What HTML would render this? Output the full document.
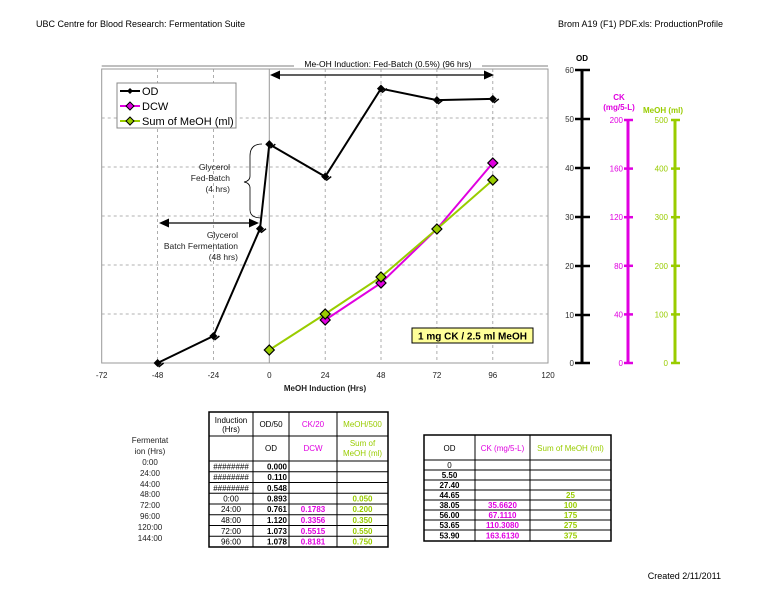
<!DOCTYPE html>
<html><head><meta charset="utf-8"><style>
body{margin:0;background:#fff;}
svg{display:block;font-family:"Liberation Sans",sans-serif;}
</style></head><body>
<svg width="776" height="600" viewBox="0 0 776 600" xmlns="http://www.w3.org/2000/svg">
<text x="36" y="27" font-size="9">UBC Centre for Blood Research: Fermentation Suite</text>
<text x="723" y="27" font-size="9" text-anchor="end">Brom A19 (F1) PDF.xls: ProductionProfile</text>
<text x="721" y="579" font-size="9" text-anchor="end">Created 2/11/2011</text>

<rect x="101.7" y="69" width="446.3" height="294" fill="none" stroke="#999" stroke-width="1"/>
<g stroke="#999" stroke-dasharray="3,3" stroke-width="0.8">
<line x1="157.6" y1="69" x2="157.6" y2="363"/><line x1="213.4" y1="69" x2="213.4" y2="363"/>
<line x1="325.2" y1="69" x2="325.2" y2="363"/><line x1="381" y1="69" x2="381" y2="363"/>
<line x1="436.9" y1="69" x2="436.9" y2="363"/><line x1="492.8" y1="69" x2="492.8" y2="363"/>
<line x1="101.7" y1="314" x2="548" y2="314"/><line x1="101.7" y1="265" x2="548" y2="265"/>
<line x1="101.7" y1="216" x2="548" y2="216"/><line x1="101.7" y1="167" x2="548" y2="167"/>
<line x1="101.7" y1="118" x2="548" y2="118"/>
</g>
<line x1="269.3" y1="69" x2="269.3" y2="363" stroke="#999"/>
<g font-size="8" text-anchor="middle" fill="#222">
<text x="101.7" y="378">-72</text><text x="157.6" y="378">-48</text><text x="213.4" y="378">-24</text>
<text x="269.3" y="378">0</text><text x="325.2" y="378">24</text><text x="381" y="378">48</text>
<text x="436.9" y="378">72</text><text x="492.8" y="378">96</text><text x="548" y="378">120</text>
<text x="325" y="391" font-weight="bold">MeOH Induction (Hrs)</text>
</g>

<line x1="101.7" y1="66" x2="294" y2="66" stroke="#000" stroke-width="0.6"/>
<line x1="482" y1="66" x2="548" y2="66" stroke="#000" stroke-width="0.6"/>
<text x="388" y="67" font-size="8.5" text-anchor="middle">Me-OH Induction: Fed-Batch (0.5%) (96 hrs)</text>
<line x1="278" y1="75" x2="485" y2="75" stroke="#000" stroke-width="1.3"/>
<polygon points="270,75 280,70.5 280,79.5" fill="#000"/>
<polygon points="494,75 484,70.5 484,79.5" fill="#000"/>
<line x1="168" y1="223" x2="250" y2="223" stroke="#000" stroke-width="1.3"/>
<polygon points="159,223 169,218.5 169,227.5" fill="#000"/>
<polygon points="259,223 249,218.5 249,227.5" fill="#000"/>
<g font-size="8.5" text-anchor="end" fill="#222">
<text x="230" y="170">Glycerol</text><text x="230" y="181">Fed-Batch</text><text x="230" y="192">(4 hrs)</text>
<text x="238" y="238">Glycerol</text><text x="238" y="249">Batch Fermentation</text><text x="238" y="260">(48 hrs)</text>
</g>
<path d="M262,144 Q250,144 250,156 L250,176 Q250,181 244,182 Q250,183 250,188 L250,210 Q250,218 262,218" fill="none" stroke="#000" stroke-width="0.8"/>

<polyline points="157.6,363 213.4,336 260,228.7 269.3,144.2 325.2,176.6 381,88.6 436.9,100.1 492.8,98.9" fill="none" stroke="#000" stroke-width="2"/>
<g fill="#000" stroke="#000" stroke-width="1.5">
<g transform="translate(157.6,363)"><polygon points="0,-3 3,0 0,3 -3,0"/><line x1="1" y1="4" x2="6" y2="0"/></g>
<g transform="translate(213.4,336)"><polygon points="0,-3 3,0 0,3 -3,0"/><line x1="1" y1="4" x2="6" y2="0"/></g>
<g transform="translate(260,228.7)"><polygon points="0,-3 3,0 0,3 -3,0"/><line x1="1" y1="4" x2="6" y2="0"/></g>
<g transform="translate(269.3,144.2)"><polygon points="0,-3 3,0 0,3 -3,0"/><line x1="1" y1="4" x2="6" y2="0"/></g>
<g transform="translate(325.2,176.6)"><polygon points="0,-3 3,0 0,3 -3,0"/><line x1="1" y1="4" x2="6" y2="0"/></g>
<g transform="translate(381,88.6)"><polygon points="0,-3 3,0 0,3 -3,0"/><line x1="1" y1="4" x2="6" y2="0"/></g>
<g transform="translate(436.9,100.1)"><polygon points="0,-3 3,0 0,3 -3,0"/><line x1="1" y1="4" x2="6" y2="0"/></g>
<g transform="translate(492.8,98.9)"><polygon points="0,-3 3,0 0,3 -3,0"/><line x1="1" y1="4" x2="6" y2="0"/></g>
</g>

<polyline points="325.2,320 381,283 436.9,229 492.8,163" fill="none" stroke="#e000e0" stroke-width="2"/>
<polyline points="269.3,350 325.2,314 381,277 436.9,229 492.8,180" fill="none" stroke="#99cc00" stroke-width="2"/>
<g stroke="#000" stroke-width="1.2">
<g fill="#e000e0">
<polygon points="325.2,315 330.2,320 325.2,325 320.2,320"/><polygon points="381,278 386,283 381,288 376,283"/>
<polygon points="492.8,158 497.8,163 492.8,168 487.8,163"/>
</g>
<g fill="#99cc00">
<polygon points="269.3,345 274.3,350 269.3,355 264.3,350"/><polygon points="325.2,309 330.2,314 325.2,319 320.2,314"/>
<polygon points="381,272 386,277 381,282 376,277"/><polygon points="436.9,224 441.9,229 436.9,234 431.9,229"/>
<polygon points="492.8,175 497.8,180 492.8,185 487.8,180"/>
</g>
</g>

<rect x="117" y="83" width="119" height="45" fill="#fff" stroke="#888"/>
<line x1="120" y1="91" x2="140" y2="91" stroke="#000" stroke-width="2"/><polygon points="130,88 133,91 130,94 127,91"/>
<line x1="120" y1="106" x2="140" y2="106" stroke="#e000e0" stroke-width="2"/><polygon points="130,102 134,106 130,110 126,106" fill="#e000e0" stroke="#000"/>
<line x1="120" y1="121" x2="140" y2="121" stroke="#99cc00" stroke-width="2"/><polygon points="130,117 134,121 130,125 126,121" fill="#99cc00" stroke="#000"/>
<g font-size="11"><text x="142" y="95">OD</text><text x="142" y="110">DCW</text><text x="142" y="125">Sum of MeOH (ml)</text></g>

<rect x="412" y="328" width="121" height="15" fill="#ffff99" stroke="#000"/>
<text x="472.5" y="339.5" font-size="10" font-weight="bold" text-anchor="middle">1 mg CK / 2.5 ml MeOH</text>

<text x="582" y="61" font-size="8" font-weight="bold" text-anchor="middle">OD</text>
<line x1="582" y1="70" x2="582" y2="363" stroke="#000" stroke-width="3"/>
<g stroke="#000" stroke-width="2.5">
<line x1="575" y1="70" x2="590" y2="70"/><line x1="575" y1="119" x2="590" y2="119"/><line x1="575" y1="168" x2="590" y2="168"/>
<line x1="575" y1="217" x2="590" y2="217"/><line x1="575" y1="266" x2="590" y2="266"/><line x1="575" y1="315" x2="590" y2="315"/><line x1="575" y1="363" x2="590" y2="363"/>
</g>
<g font-size="8" text-anchor="end" fill="#333">
<text x="574" y="73">60</text><text x="574" y="122">50</text><text x="574" y="171">40</text><text x="574" y="220">30</text>
<text x="574" y="269">20</text><text x="574" y="318">10</text><text x="574" y="366">0</text>
</g>
<g fill="#e000e0" font-size="8" font-weight="bold" text-anchor="middle"><text x="619" y="100">CK</text><text x="619" y="110">(mg/5-L)</text></g>
<line x1="628" y1="120" x2="628" y2="363" stroke="#e000e0" stroke-width="3"/>
<g stroke="#e000e0" stroke-width="2.5">
<line x1="624" y1="120" x2="633" y2="120"/><line x1="624" y1="168.6" x2="633" y2="168.6"/><line x1="624" y1="217.2" x2="633" y2="217.2"/>
<line x1="624" y1="265.8" x2="633" y2="265.8"/><line x1="624" y1="314.4" x2="633" y2="314.4"/><line x1="624" y1="363" x2="633" y2="363"/>
</g>
<g font-size="8" text-anchor="end" fill="#e000e0">
<text x="623" y="123">200</text><text x="623" y="171.6">160</text><text x="623" y="220.2">120</text>
<text x="623" y="268.8">80</text><text x="623" y="317.4">40</text><text x="623" y="366">0</text>
</g>
<text x="663" y="113" font-size="8" font-weight="bold" fill="#99cc00" text-anchor="middle">MeOH (ml)</text>
<line x1="675" y1="120" x2="675" y2="363" stroke="#99cc00" stroke-width="3"/>
<g stroke="#99cc00" stroke-width="2.5">
<line x1="671" y1="120" x2="680" y2="120"/><line x1="671" y1="168.6" x2="680" y2="168.6"/><line x1="671" y1="217.2" x2="680" y2="217.2"/>
<line x1="671" y1="265.8" x2="680" y2="265.8"/><line x1="671" y1="314.4" x2="680" y2="314.4"/><line x1="671" y1="363" x2="680" y2="363"/>
</g>
<g font-size="8" text-anchor="end" fill="#99cc00">
<text x="668" y="123">500</text><text x="668" y="171.6">400</text><text x="668" y="220.2">300</text>
<text x="668" y="268.8">200</text><text x="668" y="317.4">100</text><text x="668" y="366">0</text>
</g>

<g font-size="8" text-anchor="middle" fill="#222">
<text x="150" y="443">Fermentat</text><text x="150" y="454">ion (Hrs)</text>
<text x="150" y="465">0:00</text><text x="150" y="476">24:00</text><text x="150" y="487">44:00</text><text x="150" y="497">48:00</text>
<text x="150" y="508">72:00</text><text x="150" y="519">96:00</text><text x="150" y="530">120:00</text><text x="150" y="541">144:00</text>
</g>
<g stroke="#000" fill="none">
<rect x="209" y="412" width="179" height="135" stroke-width="1.5"/>
<line x1="209" y1="436" x2="388" y2="436"/><line x1="209" y1="461" x2="388" y2="461"/>
<line x1="253" y1="412" x2="253" y2="547"/><line x1="289" y1="412" x2="289" y2="547"/><line x1="337" y1="412" x2="337" y2="547"/>
<line x1="209" y1="471.7" x2="388" y2="471.7"/><line x1="209" y1="482.5" x2="388" y2="482.5"/><line x1="209" y1="493.2" x2="388" y2="493.2"/>
<line x1="209" y1="504" x2="388" y2="504"/><line x1="209" y1="514.7" x2="388" y2="514.7"/><line x1="209" y1="525.5" x2="388" y2="525.5"/><line x1="209" y1="536.2" x2="388" y2="536.2"/>
</g>
<g font-size="8" text-anchor="middle">
<text x="231" y="423">Induction</text><text x="231" y="432">(Hrs)</text><text x="271" y="427">OD/50</text>
<text x="313" y="427" fill="#e000e0">CK/20</text><text x="362.5" y="427" fill="#99cc00">MeOH/500</text>
<text x="271" y="451">OD</text><text x="313" y="451" fill="#e000e0">DCW</text>
<text x="362.5" y="446" fill="#99cc00">Sum of</text><text x="362.5" y="456" fill="#99cc00">MeOH (ml)</text>
<text x="231" y="469.5">########</text><text x="231" y="480">########</text><text x="231" y="491">########</text>
<text x="231" y="501.5">0:00</text><text x="231" y="512">24:00</text><text x="231" y="523">48:00</text><text x="231" y="534">72:00</text><text x="231" y="544.5">96:00</text>
</g>
<g font-size="8" font-weight="bold" text-anchor="end">
<text x="287" y="469.5">0.000</text><text x="287" y="480">0.110</text><text x="287" y="491">0.548</text><text x="287" y="501.5">0.893</text>
<text x="287" y="512">0.761</text><text x="287" y="523">1.120</text><text x="287" y="534">1.073</text><text x="287" y="544.5">1.078</text>
</g>
<g font-size="8" font-weight="bold" text-anchor="middle" fill="#e000e0">
<text x="313" y="512">0.1783</text><text x="313" y="523">0.3356</text><text x="313" y="534">0.5515</text><text x="313" y="544.5">0.8181</text>
</g>
<g font-size="8" font-weight="bold" text-anchor="middle" fill="#99cc00">
<text x="362.5" y="501.5">0.050</text><text x="362.5" y="512">0.200</text><text x="362.5" y="523">0.350</text><text x="362.5" y="534">0.550</text><text x="362.5" y="544.5">0.750</text>
</g>

<g stroke="#000" fill="none">
<rect x="424" y="435" width="187" height="106" stroke-width="1.5"/>
<line x1="424" y1="460" x2="611" y2="460"/>
<line x1="475" y1="435" x2="475" y2="541"/><line x1="530" y1="435" x2="530" y2="541"/>
<line x1="424" y1="470" x2="611" y2="470"/><line x1="424" y1="480" x2="611" y2="480"/><line x1="424" y1="490" x2="611" y2="490"/>
<line x1="424" y1="500" x2="611" y2="500"/><line x1="424" y1="510" x2="611" y2="510"/><line x1="424" y1="520" x2="611" y2="520"/><line x1="424" y1="530" x2="611" y2="530"/>
</g>
<g font-size="8" text-anchor="middle">
<text x="449.5" y="451">OD</text><text x="502.5" y="451" fill="#e000e0">CK (mg/5-L)</text><text x="570.5" y="451" fill="#99cc00">Sum of MeOH (ml)</text>
<text x="449.5" y="468">0</text>
</g>
<g font-size="8" font-weight="bold" text-anchor="middle">
<text x="449.5" y="478">5.50</text><text x="449.5" y="488">27.40</text><text x="449.5" y="498">44.65</text><text x="449.5" y="508">38.05</text>
<text x="449.5" y="518">56.00</text><text x="449.5" y="528">53.65</text><text x="449.5" y="538.5">53.90</text>
<g fill="#e000e0"><text x="502.5" y="508">35.6620</text><text x="502.5" y="518">67.1110</text><text x="502.5" y="528">110.3080</text><text x="502.5" y="538.5">163.6130</text></g>
<g fill="#99cc00"><text x="570.5" y="498">25</text><text x="570.5" y="508">100</text><text x="570.5" y="518">175</text><text x="570.5" y="528">275</text><text x="570.5" y="538.5">375</text></g>
</g>
</svg>
</body></html>
